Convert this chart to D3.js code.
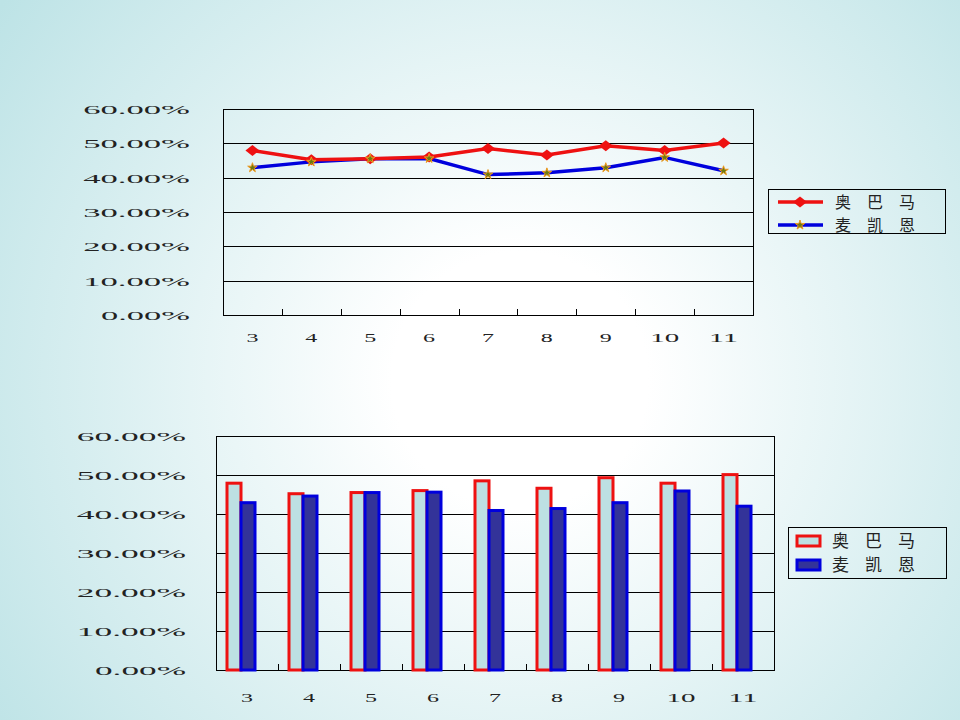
<!DOCTYPE html>
<html lang="zh">
<head>
  <meta charset="UTF-8" />
  <title>奥巴马 vs 麦凯恩</title>
  <style>
    html, body { margin: 0; padding: 0; overflow: hidden; }
    svg { display: block; }
    .num { font-family: "Liberation Serif", "DejaVu Serif", serif; font-size: 13px; fill: #222; }
    .cjk { font-family: "Noto Sans CJK SC", sans-serif; fill: #222; }
    .grid { stroke: #000; stroke-width: 1px; shape-rendering: crispEdges; }
  </style>
  <script src="https://d3js.org/d3.v7.min.js"></script>
</head>
<body>
<svg id="chart" width="960" height="720"></svg>
<script>
  // data
  const months = ["3", "4", "5", "6", "7", "8", "9", "10", "11"];
  const seriesNames = ["奥巴马", "麦凯恩"];
  const obama  = [0.479, 0.452, 0.455, 0.460, 0.485, 0.466, 0.493, 0.479, 0.501];
  const mccain = [0.429, 0.446, 0.455, 0.456, 0.409, 0.414, 0.429, 0.459, 0.420];
  const yTicks = [0, 0.1, 0.2, 0.3, 0.4, 0.5, 0.6];

  const red = "#ee1111", blue = "#0000dd";
  const svg = d3.select("#chart");

  // background
  const defs = svg.append("defs");
  const grad = defs.append("radialGradient")
    .attr("id", "bg").attr("gradientUnits", "userSpaceOnUse")
    .attr("cx", 520).attr("cy", 380).attr("r", 640);
  grad.append("stop").attr("offset", 0).attr("stop-color", "#ffffff");
  grad.append("stop").attr("offset", 0.2).attr("stop-color", "#ffffff");
  grad.append("stop").attr("offset", 1).attr("stop-color", "#bde3e6");
  svg.append("rect").attr("width", 960).attr("height", 720).attr("fill", "url(#bg)");

  const fmt = d => d3.format(".2f")(d * 100) + "%";

  function frame(g, x, y, labelRight, yLabelW, xLabelY) {
    const [x0, x1] = x.range();
    const [yb, yt] = y.range();
    // gridlines
    g.selectAll(".gl").data(yTicks).join("line")
      .attr("class", "grid")
      .attr("x1", x0).attr("x2", x1)
      .attr("y1", d => Math.round(y(d)) + 0.5).attr("y2", d => Math.round(y(d)) + 0.5);
    g.append("rect").attr("class", "grid")
      .attr("x", x0 + 0.5).attr("y", Math.round(yt) + 0.5)
      .attr("width", x1 - x0).attr("height", yb - yt).attr("fill", "none");
    // inward ticks between categories
    g.selectAll(".tk").data(months.slice(1)).join("line")
      .attr("class", "grid")
      .attr("x1", d => Math.round(x(d)) + 0.5).attr("x2", d => Math.round(x(d)) + 0.5)
      .attr("y1", yb).attr("y2", yb - 6);
    // y labels
    g.selectAll(".yl").data(yTicks).join("text")
      .attr("class", "num")
      .attr("x", labelRight).attr("y", d => y(d) + 5)
      .attr("text-anchor", "end")
      .attr("textLength", d => fmt(d).length * yLabelW)
      .attr("lengthAdjust", "spacingAndGlyphs")
      .text(fmt);
    // x labels
    g.selectAll(".xl").data(months).join("text")
      .attr("class", "num")
      .attr("x", d => x(d) + x.bandwidth() / 2).attr("y", xLabelY)
      .attr("text-anchor", "middle")
      .attr("textLength", d => d.length === 1 ? 12 : 29)
      .attr("lengthAdjust", "spacingAndGlyphs")
      .text(d => d);
  }

  // ---------- line chart ----------
  const gl = svg.append("g");
  const xL = d3.scaleBand().domain(months).range([223, 753]);
  const yL = d3.scaleLinear().domain([0, 0.6]).range([315, 109]);
  frame(gl, xL, yL, 190, 17.8, 342);

  const line = d3.line()
    .x((d, i) => xL(months[i]) + xL.bandwidth() / 2)
    .y(d => yL(d));

  gl.append("path").datum(mccain).attr("d", line)
    .attr("fill", "none").attr("stroke", blue).attr("stroke-width", 3.5);
  gl.append("path").datum(obama).attr("d", line)
    .attr("fill", "none").attr("stroke", red).attr("stroke-width", 3.5);

  const diamond = "M0,-5.5L7,0L0,5.5L-7,0Z";
  gl.selectAll(".mo").data(obama).join("path")
    .attr("transform", (d, i) => `translate(${xL(months[i]) + xL.bandwidth() / 2},${yL(d)})`)
    .attr("d", diamond).attr("fill", red);

  const star = d3.symbol().type(d3.symbolStar).size(28)();
  gl.selectAll(".mm").data(mccain).join("path")
    .attr("transform", (d, i) => `translate(${xL(months[i]) + xL.bandwidth() / 2},${yL(d)})`)
    .attr("d", star).attr("fill", "#6b7a10").attr("stroke", "#f09a20").attr("stroke-width", 1);

  // legend
  const lg = svg.append("g");
  lg.append("rect").attr("x", 768.5).attr("y", 189.5).attr("width", 177).attr("height", 44)
    .attr("fill", "none").attr("stroke", "#000");
  seriesNames.forEach((name, i) => {
    const cy = 202 + i * 23;
    lg.append("line").attr("x1", 778).attr("x2", 823).attr("y1", cy).attr("y2", cy)
      .attr("stroke", i === 0 ? red : blue).attr("stroke-width", 3.5);
    if (i === 0) {
      lg.append("path").attr("transform", `translate(800,${cy})`).attr("d", diamond).attr("fill", red);
    } else {
      lg.append("path").attr("transform", `translate(800,${cy})`).attr("d", star)
        .attr("fill", "#6b7a10").attr("stroke", "#f09a20").attr("stroke-width", 1);
    }
    lg.append("text").attr("class", "cjk")
      .attr("x", 835).attr("y", cy + 6)
      .attr("font-size", 16).attr("letter-spacing", 16)
      .text(name);
  });

  // ---------- bar chart ----------
  const gb = svg.append("g");
  const xB = d3.scaleBand().domain(months).range([216, 774]);
  const yB = d3.scaleLinear().domain([0, 0.6]).range([670, 436]);
  const xIn = d3.scaleBand().domain(seriesNames).range([0, 28]);
  frame(gb, xB, yB, 186, 18.2, 702);

  const barFill = ["#bde0e3", "#333399"];
  const barStroke = [red, blue];
  [obama, mccain].forEach((vals, s) => {
    gb.selectAll(".b" + s).data(vals).join("rect")
      .attr("x", (d, i) => xB(months[i]) + (xB.bandwidth() - 28) / 2 - 6 + xIn(seriesNames[s]))
      .attr("y", d => yB(d))
      .attr("width", xIn.bandwidth())
      .attr("height", d => yB(0) - yB(d))
      .attr("fill", barFill[s]).attr("stroke", barStroke[s]).attr("stroke-width", 3);
  });

  const lb = svg.append("g");
  lb.append("rect").attr("x", 788.5).attr("y", 527.5).attr("width", 158).attr("height", 51)
    .attr("fill", "none").attr("stroke", "#000");
  seriesNames.forEach((name, i) => {
    const cy = 541 + i * 24;
    lb.append("rect").attr("x", 797).attr("y", cy - 5).attr("width", 23).attr("height", 10)
      .attr("fill", barFill[i]).attr("stroke", barStroke[i]).attr("stroke-width", 3);
    lb.append("text").attr("class", "cjk")
      .attr("x", 832).attr("y", cy + 6)
      .attr("font-size", 17).attr("letter-spacing", 16)
      .text(name);
  });
</script>
</body>
</html>
